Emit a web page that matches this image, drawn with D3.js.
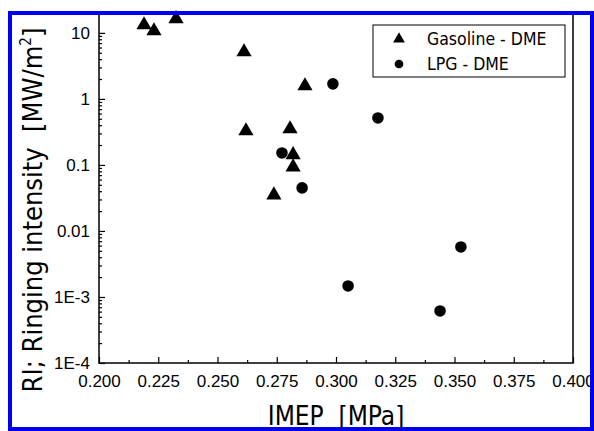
<!DOCTYPE html>
<html>
<head>
<meta charset="utf-8">
<script src="https://cdn.jsdelivr.net/npm/d3@7"></script>
<style>
  body { margin: 0; background: #fff; }
  svg { display: block; font-family: 'DejaVu Sans Condensed', 'DejaVu Sans', sans-serif; }
  .title { white-space: pre; }
</style>
</head>
<body>
<div id="chart"></div>
<script>
// data
const gasolineImep = [0.2190, 0.2232, 0.2325, 0.2612, 0.2620, 0.2869, 0.2806, 0.2819, 0.2819, 0.2738];
const gasolineRi = [13.2, 10.7, 16.3, 5.15, 0.327, 1.57, 0.351, 0.142, 0.093, 0.035];
const lpgImep = [0.2987, 0.3177, 0.2772, 0.2857, 0.3051, 0.3527, 0.3439];
const lpgRi = [1.69, 0.515, 0.152, 0.0449, 0.00147, 0.00573, 0.000614];

const xTicks = [0.200, 0.225, 0.250, 0.275, 0.300, 0.325, 0.350, 0.375, 0.400];
const yTicks = [1e-4, 1e-3, 0.01, 0.1, 1, 10];
const yTickLabels = ['1E-4', '1E-3', '0.01', '0.1', '1', '10'];
const seriesNames = ['Gasoline - DME', 'LPG - DME'];

const W = 594, H = 431;
const margin = {top: 13, left: 99, right: 21, bottom: 68};
const plotW = W - margin.left - margin.right;
const plotH = H - margin.top - margin.bottom;

const svg = d3.select('#chart').append('svg')
    .attr('width', W)
    .attr('height', H);

const x = d3.scaleLinear().domain([0.2, 0.4]).range([0, plotW]);
const y = d3.scaleLog().domain([1e-4, 20]).range([plotH, 0]);

const g = svg.append('g')
    .attr('transform', 'translate(' + margin.left + ',' + margin.top + ')');

// frame
g.append('rect')
    .attr('width', plotW)
    .attr('height', plotH)
    .attr('fill', 'none')
    .attr('stroke', '#000')
    .attr('stroke-width', 1.5);

// minor ticks
const xMinor = d3.range(0.2125, 0.4, 0.025);
const yMinor = [];
yTicks.forEach((d) => {
  for (let k = 2; k <= 9; k++) yMinor.push(d * k);
});

g.append('g')
    .attr('transform', 'translate(0,' + plotH + ')')
    .call(d3.axisBottom(x).tickValues(xTicks).tickSize(-6).tickPadding(12)
        .tickFormat(d3.format('.3f')));
g.append('g')
    .attr('transform', 'translate(0,' + plotH + ')')
    .call(d3.axisBottom(x).tickValues(xMinor).tickSize(-3).tickFormat(''));

g.append('g')
    .call(d3.axisLeft(y).tickValues(yTicks).tickSize(-6).tickPadding(9)
        .tickFormat((d, i) => yTickLabels[i]));
g.append('g')
    .call(d3.axisLeft(y).tickValues(yMinor.filter((d) => d < 20)).tickSize(-3).tickFormat(''));

g.selectAll('.domain').remove();
g.selectAll('.tick line').attr('stroke', '#000').attr('stroke-width', 1.2);
g.selectAll('.tick text')
    .attr('fill', '#000')
    .style('font-size', '17px');

// markers
const triangle = d3.symbol().type(d3.symbolTriangle).size(100);
const circle = d3.symbol().type(d3.symbolCircle).size(105);

g.selectAll('.gas')
    .data(gasolineImep)
    .enter()
    .append('path')
    .attr('d', triangle)
    .attr('transform', (d, i) => 'translate(' + x(d) + ',' + y(gasolineRi[i]) + ')')
    .attr('fill', '#000');

g.selectAll('.lpg')
    .data(lpgImep)
    .enter()
    .append('path')
    .attr('d', circle)
    .attr('transform', (d, i) => 'translate(' + x(d) + ',' + y(lpgRi[i]) + ')')
    .attr('fill', '#000');

// legend
const legend = svg.append('g').attr('transform', 'translate(373,25)');
legend.append('rect')
    .attr('width', 192)
    .attr('height', 52)
    .attr('fill', '#fff')
    .attr('stroke', '#000')
    .attr('stroke-width', 1);
const legendSymbols = [d3.symbol().type(d3.symbolTriangle).size(60), d3.symbol().type(d3.symbolCircle).size(60)];
seriesNames.forEach((name, i) => {
  const row = legend.append('g').attr('transform', 'translate(0,' + (14 + i * 25) + ')');
  row.append('path')
      .attr('d', legendSymbols[i])
      .attr('transform', 'translate(26,0)')
      .attr('fill', '#000');
  row.append('text')
      .attr('x', 54)
      .attr('dy', '0.35em')
      .style('font-size', '17.5px')
      .text(name);
});

// axis titles
svg.append('text')
    .attr('class', 'title')
    .attr('x', margin.left + plotW / 2)
    .attr('y', 425)
    .attr('text-anchor', 'middle')
    .style('font-size', '26px')
    .text('IMEP  [MPa]');

const yTitle = svg.append('text')
    .attr('class', 'title')
    .attr('transform', 'translate(42,210) rotate(-90)')
    .attr('text-anchor', 'middle')
    .style('font-size', '27px');
yTitle.append('tspan').text('RI; Ringing intensity  [MW/m');
yTitle.append('tspan').attr('dy', -11).style('font-size', '15px').text('2');
yTitle.append('tspan').attr('dy', 11).text(']');

// blue border
svg.append('rect')
    .attr('x', 10)
    .attr('y', 13)
    .attr('width', 582)
    .attr('height', 416)
    .attr('fill', 'none')
    .attr('stroke', '#0000ee')
    .attr('stroke-width', 4);
</script>
</body>
</html>
